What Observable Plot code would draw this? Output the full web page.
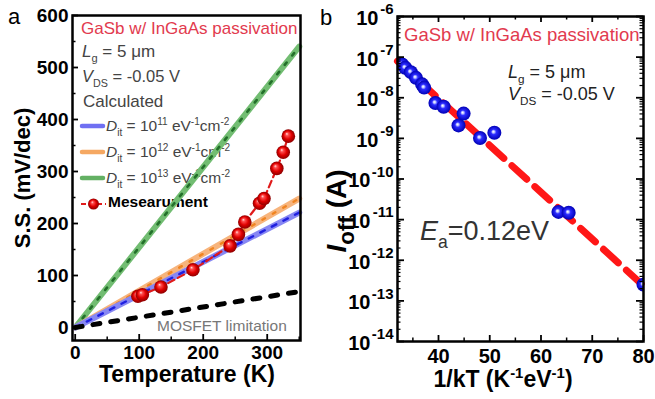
<!DOCTYPE html>
<html>
<head>
<meta charset="utf-8">
<script src="https://cdn.jsdelivr.net/npm/d3@7"></script>
<script src="https://cdn.jsdelivr.net/npm/@observablehq/plot@0.6"></script>
<style>
  body { margin: 0; background: #fff; }
  #fig { position: relative; width: 655px; height: 399px; overflow: hidden; background: #fff; }
  #fig svg { position: absolute; top: 0; }
</style>
</head>
<body>
<div id="fig"></div>
<script>
const FONT = '"Liberation Sans", Arial, sans-serif';

// ---- (a) subthreshold swing vs. temperature ----
const calcTemp = [0, 350];              // K, end points of the calculated lines
const ssDit11 = [0, 221];               // mV/dec, Dit = 1e11
const ssDit12 = [0, 248];               // mV/dec, Dit = 1e12
const ssDit13 = [0, 540];               // mV/dec, Dit = 1e13
const ssMosfet = [0, 69];               // mV/dec, ideal MOSFET limit
const measTemp = [98, 105, 134, 184, 242, 255, 265, 288, 295, 315, 325, 333];
const measSS   = [60, 63, 78, 111, 157, 179, 203, 239, 248, 306, 337, 368];
const tempTicks = [0, 100, 200, 300];
const tempMinorTicks = [50, 150, 250, 350];
const ssTicks = [0, 100, 200, 300, 400, 500, 600];
const ssMinorTicks = [50, 150, 250, 350, 450, 550];
const ditExponents = ["11", "12", "13"];

// ---- (b) off-current Arrhenius plot ----
const invKT   = [32.9, 33.5, 34.6, 35.6, 36.8, 37.2, 39.4, 41.0, 43.9, 44.9, 48.1, 50.9, 63.4, 65.4, 80.0];
const logIoff = [-7.18, -7.26, -7.37, -7.51, -7.67, -7.75, -8.13, -8.22, -8.68, -8.39, -8.99, -8.86, -10.81, -10.83, -12.6];
const fitInvKT = [32, 80];
const fitLogIoff = [-7.10, -12.63];
const invKTTicks = [40, 50, 60, 70, 80];
const invKTMinorTicks = [35, 45, 55, 65, 75];
const ioffExponents = [-14, -13, -12, -11, -10, -9, -8, -7, -6];
const minorMantissas = [2, 3, 4, 5, 6, 7, 8, 9];

// ---------- helpers ----------
function rich(sel, x, y, parts, {size = 16, weight = "normal", fill = "black", anchor = "start", rotate = 0, subScale = 0.65} = {}) {
  const text = sel.append("text")
    .attr("transform", `translate(${x},${y})` + (rotate ? ` rotate(${rotate})` : ""))
    .attr("font-family", FONT).attr("font-size", size).attr("font-weight", weight)
    .attr("fill", fill).attr("text-anchor", anchor).style("white-space", "pre");
  let shift = 0;
  for (const p of parts) {
    const s = p.sub ? size * 0.3 : p.sup ? -size * 0.4 : 0;
    const span = text.append("tspan").text(p.t);
    if (s !== shift) span.attr("dy", s - shift);
    if (p.sub || p.sup) span.attr("font-size", size * subScale);
    if (p.it) span.attr("font-style", "italic");
    shift = s;
  }
  return text;
}

function addBall(svg, id, stops, fx, fy) {
  const defs = d3.select(svg).insert("defs", ":first-child");
  const g = defs.append("radialGradient").attr("id", id)
    .attr("cx", 0.5).attr("cy", 0.5).attr("r", 0.5).attr("fx", fx).attr("fy", fy);
  for (const [o, c] of stops) g.append("stop").attr("offset", o).attr("stop-color", c);
}

const fig = document.getElementById("fig");

// ---------- panel a ----------
const calcRows = calcTemp.map((t, i) => ({t, d11: ssDit11[i], d12: ssDit12[i], d13: ssDit13[i], mos: ssMosfet[i]}));
const measRows = measTemp.map((t, i) => ({t, ss: measSS[i]}));

const WA = 315, HA = 399, mA = {l: 72, r: 15, t: 15, b: 59};
const inWA = WA - mA.l - mA.r, inHA = HA - mA.t - mA.b;
const boldA = {fontSize: 19, fontWeight: "bold", fill: "black"};

const plotA = Plot.plot({
  width: WA, height: HA,
  marginLeft: mA.l, marginRight: mA.r, marginTop: mA.t, marginBottom: mA.b,
  style: {fontFamily: FONT, background: "transparent", overflow: "visible"},
  x: {domain: [-4.2, 352], axis: null},
  y: {domain: [-25, 600], axis: null},
  marks: [
    Plot.line(calcRows, {x: "t", y: "d13", stroke: "#72bd72", strokeWidth: 6}),
    Plot.line(calcRows, {x: "t", y: "d13", stroke: "#23702a", strokeWidth: 2.6, strokeDasharray: "3,9"}),
    Plot.line(calcRows, {x: "t", y: "d12", stroke: "#f7b47c", strokeWidth: 6}),
    Plot.line(calcRows, {x: "t", y: "d12", stroke: "#f08420", strokeWidth: 2.4, strokeDasharray: "3,9"}),
    Plot.line(calcRows, {x: "t", y: "d11", stroke: "#8787f3", strokeWidth: 6}),
    Plot.line(calcRows, {x: "t", y: "d11", stroke: "#2020e0", strokeWidth: 2.4, strokeDasharray: "5,8"}),
    Plot.line(calcRows, {x: "t", y: "mos", stroke: "black", strokeWidth: 5, strokeDasharray: "7,11", strokeLinecap: "round"}),
    Plot.line(measRows, {x: "t", y: "ss", stroke: "#e01b1b", strokeWidth: 2.2, strokeDasharray: "7,4"}),
    Plot.dot(measRows, {x: "t", y: "ss", r: 6.8, fill: "url(#ballRed)"}),
    Plot.tickX(tempTicks, {x: d => d, insetTop: inHA - 6, stroke: "black", strokeWidth: 1.8}),
    Plot.tickX(tempMinorTicks, {x: d => d, insetTop: inHA - 3.5, stroke: "black", strokeWidth: 1.5}),
    Plot.tickY(ssTicks, {y: d => d, insetRight: inWA - 6, stroke: "black", strokeWidth: 1.8}),
    Plot.tickY(ssMinorTicks, {y: d => d, insetRight: inWA - 3.5, stroke: "black", strokeWidth: 1.5}),
    Plot.text(tempTicks, {x: d => d, frameAnchor: "bottom", text: d => String(d), dy: 18, lineAnchor: "bottom", ...boldA}),
    Plot.text(ssTicks, {y: d => d, frameAnchor: "left", text: d => String(d), textAnchor: "end", dx: -4, lineAnchor: "middle", ...boldA}),
    Plot.frame({stroke: "black", strokeWidth: 2.5})
  ]
});
plotA.style.left = "0px";
fig.appendChild(plotA);
addBall(plotA, "ballRed", [[0, "#ffe4e4"], [0.22, "#ff5050"], [0.6, "#e00000"], [1, "#8c0000"]], 0.38, 0.32);

{
  const svg = d3.select(plotA);
  const under = svg.insert("g", "g");  // legend text sits beneath the lines
  const grey = "#444";
  rich(under, 81, 34, [{t: "GaSb w/ InGaAs passivation"}], {size: 17, fill: "#e23a4e"});
  rich(under, 82, 57, [{t: "L", it: 1}, {t: "g", sub: 1}, {t: " = 5 μm"}], {size: 17, fill: grey});
  rich(under, 82, 82, [{t: "V", it: 1}, {t: "DS", sub: 1}, {t: " = -0.05 V"}], {size: 16.5, fill: grey});
  rich(under, 83, 107, [{t: "Calculated"}], {size: 17, fill: grey});
  const swatch = ["#7070f2", "#f5a862", "#63b063"];
  ditExponents.forEach((e, i) => {
    const y = 126 + i * 26;
    under.append("line").attr("x1", 82).attr("x2", 103).attr("y1", y).attr("y2", y)
      .attr("stroke", swatch[i]).attr("stroke-width", 4.5).attr("stroke-linecap", "round");
    rich(under, 106, y + 5, [
      {t: "D", it: 1}, {t: "it", sub: 1}, {t: " = 10"}, {t: e, sup: 1},
      {t: " eV"}, {t: "-1", sup: 1}, {t: "cm"}, {t: "-2", sup: 1}
    ], {size: 15.5, fill: grey});
  });
  under.append("line").attr("x1", 81).attr("x2", 106).attr("y1", 204).attr("y2", 204)
    .attr("stroke", "#e01b1b").attr("stroke-width", 2.2).attr("stroke-dasharray", "5,3");
  under.append("circle").attr("cx", 93.5).attr("cy", 204).attr("r", 5.5).attr("fill", "url(#ballRed)");
  rich(under, 108, 207, [{t: "Mesearument"}], {size: 15.5, weight: "bold"});
  rich(under, 157, 331, [{t: "MOSFET limitation"}], {size: 15.5, fill: "#777"});

  const top = svg.append("g");
  rich(top, 8, 24, [{t: "a"}], {size: 22});
  rich(top, 30, 178, [{t: "S.S. (mV/dec)"}], {size: 22, weight: "bold", rotate: -90, anchor: "middle"});
  rich(top, 187, 382, [{t: "Temperature (K)"}], {size: 23, weight: "bold", anchor: "middle"});
}

// ---------- panel b ----------
const ioffRows = invKT.map((k, i) => ({k, i: 10 ** logIoff[i]}));
const fitRows = fitInvKT.map((k, i) => ({k, i: 10 ** fitLogIoff[i]}));
const ioffMajor = ioffExponents.map(e => 10 ** e);
const ioffMinor = ioffExponents.slice(0, -1).flatMap(e => minorMantissas.map(m => m * 10 ** e));
const shortExp = ioffExponents.filter(e => e > -10);
const longExp = ioffExponents.filter(e => e <= -10);

const WB = 340, HB = 399, mB = {l: 82, r: 12, t: 16, b: 58};
const inWB = WB - mB.l - mB.r, inHB = HB - mB.t - mB.b;
const base = {fontSize: 20, fontWeight: "bold", fill: "black"};
const sup = {fontSize: 15, fontWeight: "bold", fill: "black"};

const plotB = Plot.plot({
  width: WB, height: HB,
  marginLeft: mB.l, marginRight: mB.r, marginTop: mB.t, marginBottom: mB.b,
  style: {fontFamily: FONT, background: "transparent", overflow: "visible"},
  x: {domain: [32, 80], axis: null},
  y: {type: "log", domain: [1e-14, 1e-6], axis: null},
  marks: [
    Plot.line(fitRows, {x: "k", y: "i", stroke: "#ff1717", strokeWidth: 7, strokeDasharray: "20,11"}),
    Plot.dot(ioffRows, {x: "k", y: "i", r: 7, fill: "url(#ballBlue)", clip: true}),
    // bottom and top ticks
    Plot.tickX(invKTTicks, {x: d => d, insetTop: inHB - 6, stroke: "black", strokeWidth: 1.8}),
    Plot.tickX(invKTMinorTicks, {x: d => d, insetTop: inHB - 3.5, stroke: "black", strokeWidth: 1.5}),
    Plot.tickX(invKTTicks, {x: d => d, insetBottom: inHB - 6, stroke: "black", strokeWidth: 1.8}),
    Plot.tickX(invKTMinorTicks, {x: d => d, insetBottom: inHB - 3.5, stroke: "black", strokeWidth: 1.5}),
    // left and right ticks
    Plot.tickY(ioffMajor, {y: d => d, insetRight: inWB - 7, stroke: "black", strokeWidth: 1.8}),
    Plot.tickY(ioffMinor, {y: d => d, insetRight: inWB - 3.5, stroke: "black", strokeWidth: 1.2}),
    Plot.tickY(ioffMajor, {y: d => d, insetLeft: inWB - 7, stroke: "black", strokeWidth: 1.8}),
    Plot.tickY(ioffMinor, {y: d => d, insetLeft: inWB - 3.5, stroke: "black", strokeWidth: 1.2}),
    // tick labels
    Plot.text(invKTTicks, {x: d => d, frameAnchor: "bottom", text: d => String(d), dy: 21, lineAnchor: "bottom", ...base}),
    Plot.text(shortExp, {y: e => 10 ** e, frameAnchor: "left", text: () => "10", textAnchor: "end", dx: -19, dy: 2, lineAnchor: "middle", ...base}),
    Plot.text(shortExp, {y: e => 10 ** e, frameAnchor: "left", text: e => String(e), textAnchor: "end", dx: -4, dy: -7, lineAnchor: "middle", ...sup}),
    Plot.text(longExp, {y: e => 10 ** e, frameAnchor: "left", text: () => "10", textAnchor: "end", dx: -27, dy: 2, lineAnchor: "middle", ...base}),
    Plot.text(longExp, {y: e => 10 ** e, frameAnchor: "left", text: e => String(e), textAnchor: "end", dx: -4, dy: -7, lineAnchor: "middle", ...sup}),
    Plot.frame({stroke: "black", strokeWidth: 2.5})
  ]
});
plotB.style.left = "315px";
fig.appendChild(plotB);
addBall(plotB, "ballBlue", [[0, "#ffffff"], [0.16, "#c4ccff"], [0.38, "#2b2bff"], [1, "#0000b4"]], 0.42, 0.42);

{
  const svg = d3.select(plotB);
  const g = svg.append("g");
  rich(g, 89, 41, [{t: "GaSb w/ InGaAs passivation"}], {size: 18.5, fill: "#e23a4e"});
  rich(g, 193, 78, [{t: "L", it: 1}, {t: "g", sub: 1}, {t: " = 5 μm"}], {size: 18, fill: "#222"});
  rich(g, 193, 100, [{t: "V", it: 1}, {t: "DS", sub: 1}, {t: " = -0.05 V"}], {size: 18, fill: "#222"});
  rich(g, 105, 240, [{t: "E", it: 1}, {t: "a", sub: 1}, {t: "=0.12eV"}], {size: 27, fill: "#333"});
  rich(g, 5, 25, [{t: "b"}], {size: 22});
  rich(g, 31, 211, [{t: "I", it: 1}, {t: "off", sub: 1}, {t: " (A)"}], {size: 28, weight: "bold", rotate: -90, anchor: "middle", subScale: 0.8});
  rich(g, 188, 387, [{t: "1/kT (K"}, {t: "-1", sup: 1}, {t: "eV"}, {t: "-1", sup: 1}, {t: ")"}], {size: 23, weight: "bold", anchor: "middle"});
}
</script>
</body>
</html>
